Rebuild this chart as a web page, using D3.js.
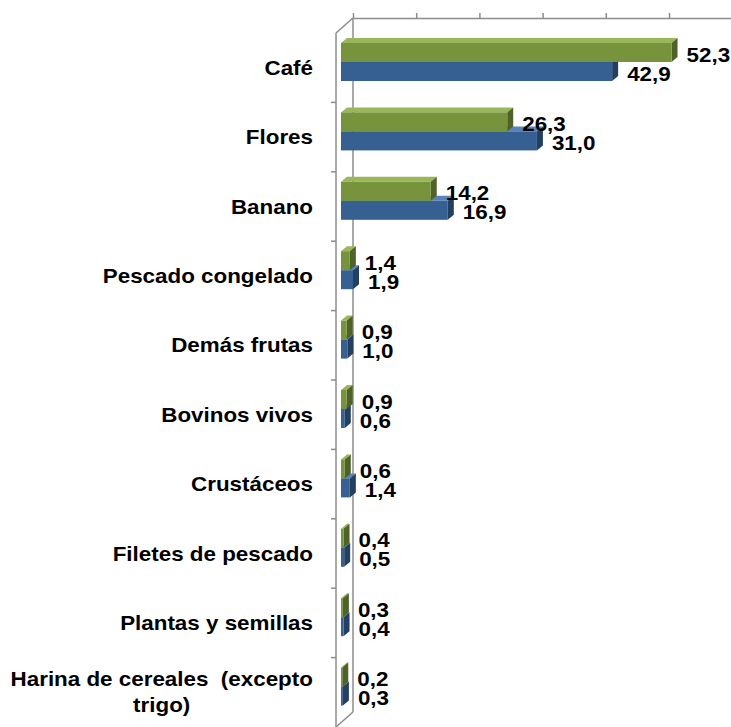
<!DOCTYPE html>
<html>
<head>
<meta charset="utf-8">
<script src="https://cdn.jsdelivr.net/npm/d3@7"></script>
<style>
  body { margin: 0; background: #fff; }
  text { font-family: "Liberation Sans", Arial, sans-serif; font-weight: bold; fill: #000; white-space: pre; }
</style>
</head>
<body>
<svg id="chart" width="731" height="727"></svg>
<script>
// categorias de arriba hacia abajo
var categorias = ["Café", "Flores", "Banano", "Pescado congelado", "Demás frutas",
  "Bovinos vivos", "Crustáceos", "Filetes de pescado", "Plantas y semillas",
  "Harina de cereales  (excepto|trigo)"];
var serieVerde = [52.3, 26.3, 14.2, 1.4, 0.9, 0.9, 0.6, 0.4, 0.3, 0.2];
var serieAzul  = [42.9, 31.0, 16.9, 1.9, 1.0, 0.6, 1.4, 0.5, 0.4, 0.3];
var ticksX = [0, 10, 20, 30, 40, 50, 60];

var svg = d3.select('#chart');
var fs = 20, sx = 1.12;      // texto un poco ensanchado como en la imagen
var dx = 6, dy = 5;          // profundidad de las barras
var lineColor = '#8c8c8c';

// escala del frente (barras) y de la pared del fondo (eje)
var x = d3.scaleLinear().domain([0, 60]).range([341, 341 + 379.2]);
var xBack = d3.scaleLinear().domain([0, 60]).range([353, 353 + 379.2]);
var y = d3.scaleBand().domain(categorias).range([33, 727]).padding(0);

// eje superior (pared del fondo)
var axis = svg.append('g')
  .attr('transform', 'translate(0,18)')
  .call(d3.axisTop(xBack).tickValues(ticksX).tickFormat('').tickSize(5).tickSizeOuter(0));
axis.select('.domain').attr('stroke', lineColor).attr('stroke-width', 1.5);
axis.selectAll('.tick line').attr('stroke', lineColor).attr('stroke-width', 1.5);

// paredes: linea del fondo, linea del frente y diagonales
var walls = svg.append('g').attr('stroke', lineColor).attr('stroke-width', 1.5).attr('fill', 'none');
walls.append('line').attr('x1', xBack(0)).attr('y1', 18).attr('x2', xBack(0)).attr('y2', 712);
walls.append('line').attr('x1', 336).attr('y1', 33).attr('x2', 336).attr('y2', 727);
walls.append('line').attr('x1', xBack(0)).attr('y1', 18).attr('x2', 336).attr('y2', 33);
walls.append('line').attr('x1', xBack(0)).attr('y1', 712).attr('x2', 336).attr('y2', 727);
walls.selectAll('.cat-tick')
  .data(categorias.slice(1))
  .enter()
  .append('line')
  .attr('x1', 331).attr('x2', 336)
  .attr('y1', d => y(d)).attr('y2', d => y(d));

var colores = [
  { front: '#77933c', top: '#9ab65a', side: '#4f6228', off: 10 },   // verde
  { front: '#376092', top: '#5a82b8', side: '#243f60', off: 29 }    // azul
];
var h = 19;

function drawBar(g, cat, v, c) {
  var x0 = x(0), x1 = x(v), y0 = y(cat) + c.off;
  g.append('polygon')
    .attr('points', [[x0, y0], [x0 + dx, y0 - dy], [x1 + dx, y0 - dy], [x1, y0]].join(' '))
    .attr('fill', c.top);
  g.append('polygon')
    .attr('points', [[x1, y0], [x1 + dx, y0 - dy], [x1 + dx, y0 + h - dy], [x1, y0 + h]].join(' '))
    .attr('fill', c.side);
  g.append('rect')
    .attr('x', x0).attr('y', y0).attr('width', x1 - x0).attr('height', h)
    .attr('fill', c.front);
}

function drawValue(cat, v, c) {
  var yc = y(cat) + c.off + h / 2;
  svg.append('text')
    .attr('transform', 'translate(' + (x(v) + dx + 9) + ',' + (yc + 9) + ') scale(' + sx + ',1)')
    .attr('font-size', fs)
    .text(d3.format('.1f')(v).replace('.', ','));
}

var bars = svg.append('g');
categorias.forEach(function(cat, i) {
  // azul primero, el verde queda encima
  drawBar(bars, cat, serieAzul[i], colores[1]);
  drawBar(bars, cat, serieVerde[i], colores[0]);
  drawValue(cat, serieVerde[i], colores[0]);
  drawValue(cat, serieAzul[i], colores[1]);
});

// etiquetas de categoria
categorias.forEach(function(cat) {
  var lines = cat.split('|');
  var yc = y(cat) + y.bandwidth() / 2;
  if (lines.length == 1) {
    svg.append('text')
      .attr('transform', 'translate(313,' + (yc + 7) + ') scale(' + sx + ',1)')
      .attr('font-size', fs)
      .attr('text-anchor', 'end')
      .text(cat);
  } else {
    var t1 = svg.append('text')
      .attr('font-size', fs)
      .attr('text-anchor', 'middle')
      .text(lines[0]);
    var w = t1.node().getComputedTextLength() * sx;
    var cx = 313 - w / 2;
    t1.attr('transform', 'translate(' + cx + ',' + (yc - 6) + ') scale(' + sx + ',1)');
    svg.append('text')
      .attr('transform', 'translate(' + cx + ',' + (yc + 20) + ') scale(' + sx + ',1)')
      .attr('font-size', fs)
      .attr('text-anchor', 'middle')
      .text(lines[1]);
  }
});
</script>
</body>
</html>
